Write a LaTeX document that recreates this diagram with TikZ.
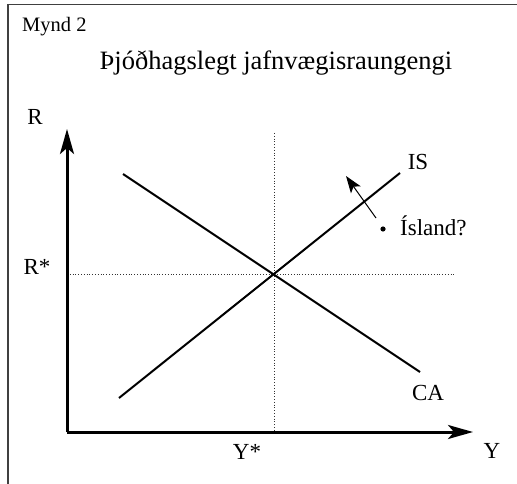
\documentclass[tikz,border=0pt]{standalone}
\usepackage{fontspec}
\setmainfont{Liberation Serif}
\usetikzlibrary{arrows.meta}
\begin{document}
\begin{tikzpicture}[x=1pt,y=-1pt,
  lbl/.style={inner sep=0pt,anchor=base,font=\fontsize{23}{27}\selectfont},
  axisline/.style={line width=3pt,-{Stealth[length=25pt,width=14pt,inset=6pt]}},
  curve/.style={line width=2pt},
  guide/.style={line width=0.8pt,dotted,black!80},
  frameline/.style={line width=1.5pt,black!75}]
\useasboundingbox (0,0) rectangle (517,484);
\fill[white] (0,0) rectangle (517,484);
\draw[frameline] (8,484) -- (8,4.5) -- (517,4.5);
\node[lbl,anchor=base west,font=\fontsize{20.5}{24}\selectfont] (mynd) at (22,32) {Mynd 2};
\node[lbl,font=\fontsize{26.5}{31}\selectfont] (title) at (276,70) {Þjóðhagslegt jafnvægisraungengi};
% axes
\coordinate (O) at (67,432);
\coordinate (ytip) at (67,129);
\coordinate (xtip) at (473,432);
% guides
\coordinate (rs1) at (67,274);
\coordinate (rs2) at (455,274);
\coordinate (ys1) at (274,133);
\coordinate (ys2) at (274,432);
\draw[guide] (rs1) -- (rs2);
\draw[guide] (ys1) -- (ys2);
\draw[axisline] (O) -- (ytip);
\draw[axisline] (O) -- (xtip);
% curves
\coordinate (is1) at (119,398);
\coordinate (is2) at (400,173);
\coordinate (ca1) at (123,174);
\coordinate (ca2) at (420,372);
\draw[curve] (is1) -- (is2);
\draw[curve] (ca1) -- (ca2);
% labels
\node[lbl] (R) at (35,125) {R};
\node[lbl] (Rs) at (37,274) {R*};
\node[lbl] (IS) at (418,170) {IS};
\node[lbl] (CA) at (428,400) {CA};
\node[lbl] (Ys) at (247,459) {Y*};
\node[lbl] (Y) at (492,458) {Y};
% Iceland point
\fill (383,229) circle (2.6pt);
\node[lbl,anchor=base west] (isl) at (400,235) {Ísland?};
\coordinate (a1) at (376,218);
\coordinate (a2) at (346,176);
\draw[line width=1pt,-{Stealth[length=17pt,width=12pt,inset=4pt]}] (a1) -- (a2);
\end{tikzpicture}
\end{document}
